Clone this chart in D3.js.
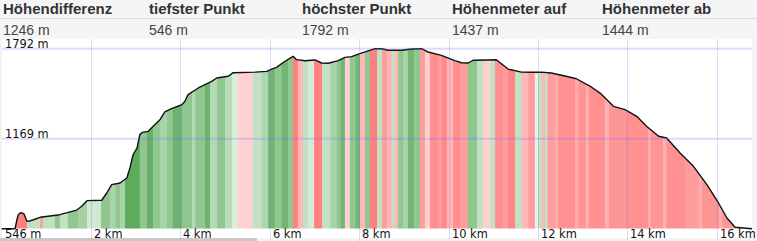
<!DOCTYPE html>
<html>
<head>
<meta charset="utf-8">
<script src="https://cdn.jsdelivr.net/npm/d3@7/dist/d3.min.js"></script>
<style>
  body { margin: 0; background: #f3f3f3; }
  svg { display: block; }
</style>
</head>
<body>
<svg id="chart" width="757" height="241"></svg>
<script>
// header summary
const headLabels = ['Höhendifferenz', 'tiefster Punkt', 'höchster Punkt', 'Höhenmeter auf', 'Höhenmeter ab'];
const headValues = ['1246 m', '546 m', '1792 m', '1437 m', '1444 m'];

// elevation profile (km, m)
const distKm = [0, 0.30, 0.34, 0.37, 0.43, 0.50, 0.56, 0.60, 0.71, 0.86, 1.08, 1.30, 1.53, 1.68, 1.79, 1.91,
  2.24, 2.35, 2.46, 2.65, 2.80, 2.87, 2.94, 3.03, 3.09, 3.15, 3.28, 3.39, 3.54, 3.65, 3.80, 4.03, 4.10, 4.17,
  4.40, 4.70, 4.81, 5.07, 5.18, 5.67, 5.93, 6.04, 6.15, 6.34, 6.52, 6.60, 6.79, 7.01, 7.16, 7.31, 7.53, 7.68,
  7.83, 7.98, 8.17, 8.35, 8.50, 8.65, 8.95, 9.17, 9.40, 9.54, 9.84, 10.14, 10.29, 10.44, 10.55, 10.89, 11.07,
  11.19, 11.33, 11.63, 11.85, 12.07, 12.30, 12.63, 12.86, 13.17, 13.39, 13.69, 13.95, 14.21, 14.43, 14.70,
  14.88, 15.18, 15.48, 15.78, 16.04, 16.23, 16.41, 16.79];
const elevM = [546, 546, 608, 643, 657, 648, 601, 597, 608, 625, 634, 643, 662, 675, 701, 740,
  743, 793, 851, 862, 897, 967, 1058, 1105, 1197, 1213, 1220, 1255, 1300, 1354, 1377, 1404, 1428, 1474,
  1520, 1566, 1589, 1601, 1626, 1630, 1635, 1651, 1663, 1705, 1739, 1716, 1709, 1714, 1693, 1691, 1709, 1732,
  1737, 1755, 1774, 1792, 1792, 1781, 1781, 1790, 1792, 1769, 1746, 1709, 1695, 1693, 1712, 1714, 1716,
  1686, 1651, 1630, 1629, 1630, 1624, 1601, 1584, 1532, 1485, 1393, 1370, 1324, 1255, 1186,
  1174, 1070, 978, 851, 724, 620, 556, 546];

// slope colour bands: start km and grade class (-3 steep down .. 3 steep up)
const stripeKm = [0.30, 0.57, 0.86, 0.92, 1.19, 1.30, 1.48, 1.71, 1.91, 2.22, 2.42, 2.54, 2.65, 2.76, 3.09,
  3.25, 3.39, 3.54, 3.70, 3.83, 4.03, 4.26, 4.33, 4.55, 4.66, 4.82, 5.00, 5.15, 5.29, 5.62, 5.82, 5.96, 6.12,
  6.27, 6.41, 6.52, 6.63, 6.74, 6.85, 6.99, 7.17, 7.35, 7.50, 7.59, 7.68, 7.79, 7.91, 8.02, 8.13, 8.24, 8.40,
  8.51, 8.62, 8.73, 8.80, 8.87, 8.98, 9.09, 9.23, 9.36, 9.47, 9.58, 9.76, 9.85, 9.96, 10.10, 10.25, 10.43,
  10.64, 10.77, 10.93, 11.04, 11.22, 11.33, 11.49, 11.64, 11.78, 11.93, 12.00, 12.09, 12.16, 12.22, 12.38,
  12.45, 12.83, 12.90, 13.08, 13.14, 13.50, 13.59, 13.95, 14.46, 14.53, 14.80, 14.87, 15.29, 15.60, 15.67,
  16.05, 16.12, 16.41];
const stripeGrade = [-3, 1, -2, 1, 2, 1, 2, 1.6, 0.6, 2, 1.5, 2, 1.5, 3, 2,
  2.8, 2, 1.5, 2, 2.7, 2, 1.3, 2, 2.7, 1.3, 2, 1.2, 0.3, -1, 1, 1.4, 2.6, 2,
  2.6, 2, -3, -1.5, 1, 0.5, -3, 1, 1.5, 2, 2.6, -1, 2, 2.6, -1.5, 2, -3, 1,
  -2, -1.5, 1, -1.5, 2, 1.5, 2.6, 2, -2, -1, -2.5, -2, -2.7, -1.5, -2.5, -2, 2,
  1, -1, 1, -2.5, -2, -2.8, 1, -1.5, -2, 0, 1, -1.5, 1, -2, -1.7,
  -2.4, -1.7, -2.2, -1.7, -2.4, -1.6, -2.2, -2.4, -1.7, -2.2, -1.6, -2.4, -2, -1.7, -2.3,
  -1.6, -2.2, -1.2];

const xTicks = [2, 4, 6, 8, 10, 12, 14, 16];
const yTicks = [546, 1169, 1792];

const svg = d3.select('#chart');
const W = 757;

// header
svg.append('rect').attr('width', W).attr('height', 39).attr('fill', '#f5f5f5');
svg.append('line').attr('x1', 0).attr('x2', W).attr('y1', 18.5).attr('y2', 18.5)
  .attr('stroke', '#dcdcdc').attr('stroke-width', 1);
const colX = [3, 149, 302, 452, 602];
svg.append('g').selectAll('text').data(headLabels).join('text')
  .attr('x', (d, i) => colX[i]).attr('y', 14)
  .attr('font-family', 'Liberation Sans, Arial, sans-serif').attr('font-size', 15)
  .attr('font-weight', 'bold').attr('fill', '#333').text((d) => d);
svg.append('g').selectAll('text').data(headValues).join('text')
  .attr('x', (d, i) => colX[i]).attr('y', 34.5)
  .attr('font-family', 'Liberation Sans, Arial, sans-serif').attr('font-size', 14)
  .attr('fill', '#444').text((d) => d);

// panel
svg.append('rect').attr('x', 2).attr('y', 39).attr('width', 750).attr('height', 199).attr('fill', '#fff');
svg.append('rect').attr('x', 0).attr('y', 238).attr('width', 257).attr('height', 3).attr('fill', '#c9c9c9');
svg.append('clipPath').attr('id', 'panel').append('rect')
  .attr('x', 0).attr('y', 39).attr('width', 755).attr('height', 202);

const x = d3.scaleLinear().domain([0, d3.max(distKm)]).range([1.7, 752]);
const y = d3.scaleLinear().domain([546, 1792]).range([228.7, 48.7]);

const profile = distKm.map((k, i) => ({ km: k, m: elevM[i] }));
const area = d3.area().x((d) => x(d.km)).y0(y(546)).y1((d) => y(d.m));
const line = d3.line().x((d) => x(d.km)).y((d) => y(d.m));

svg.append('clipPath').attr('id', 'prof').append('path').attr('d', area(profile));

const gradeColor = d3.scaleLinear()
  .domain([-3, -2, -1, 0, 1, 2, 3])
  .range(['#ff8080', '#ff9c9c', '#ffd0d0', '#e8f3e8', '#c2e0c2', '#90c690', '#5eab5e']);

const stripes = stripeKm.map((k, i) => ({
  x0: k,
  x1: i < stripeKm.length - 1 ? stripeKm[i + 1] : d3.max(distKm),
  g: stripeGrade[i],
}));

svg.append('g').attr('clip-path', 'url(#prof)')
  .selectAll('rect').data(stripes).join('rect')
  .attr('x', (d) => x(d.x0)).attr('width', (d) => x(d.x1) - x(d.x0) + 0.3)
  .attr('y', y(1792) - 2).attr('height', y(546) - y(1792) + 2)
  .attr('fill', (d) => gradeColor(d.g));

svg.append('path').attr('d', line(profile)).attr('fill', 'none')
  .attr('stroke', '#111').attr('stroke-width', 1.4).attr('stroke-linejoin', 'round');

// grid over the fill
const grid = svg.append('g').attr('stroke', '#7070ff').attr('stroke-opacity', 0.25);
grid.selectAll('line.v').data(xTicks).join('line').attr('class', 'v')
  .attr('x1', (d) => Math.round(x(d)) + 0.5).attr('x2', (d) => Math.round(x(d)) + 0.5)
  .attr('y1', 39).attr('y2', 241).attr('stroke-width', 1);
grid.selectAll('line.h').data(yTicks.slice(1)).join('line').attr('class', 'h')
  .attr('x1', 2).attr('x2', 752).attr('y1', (d) => y(d)).attr('y2', (d) => y(d)).attr('stroke-width', 2);

const axisFont = 'DejaVu Sans, Verdana, sans-serif';
svg.append('g').attr('clip-path', 'url(#panel)')
  .selectAll('text').data(xTicks).join('text')
  .attr('x', (d) => Math.round(x(d)) + 3).attr('y', 237.5)
  .attr('font-family', axisFont).attr('font-size', 11.4).attr('fill', '#111')
  .text((d) => `${d} km`);
svg.append('g').selectAll('text').data(yTicks).join('text')
  .attr('x', 5).attr('y', (d, i) => (i === 0 ? 237.5 : y(d) - 1.2))
  .attr('font-family', axisFont).attr('font-size', 11.4).attr('fill', '#111')
  .text((d) => `${d} m`);
</script>
</body>
</html>
